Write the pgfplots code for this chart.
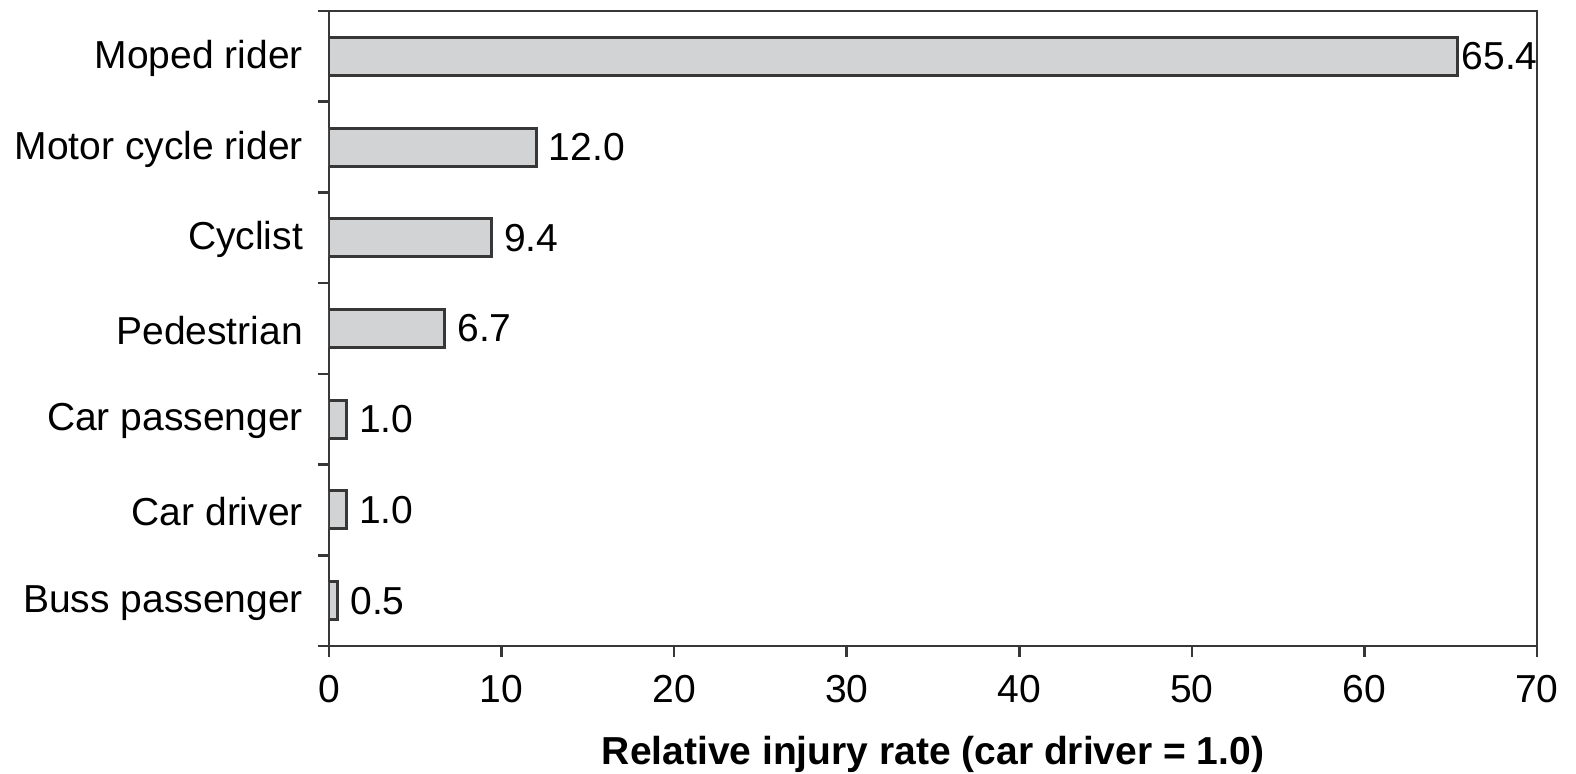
\documentclass[border=0pt]{standalone}
\usepackage{pgfplots}
\pgfplotsset{compat=1.18}
\usepackage{fontspec}
\setmainfont{Liberation Sans}
\definecolor{barfill}{RGB}{210,211,213}
\definecolor{edge}{RGB}{55,55,55}

\begin{document}
\begin{tikzpicture}[font=\fontsize{11.7}{14}\selectfont]
\begin{axis}[
  at={(0,0)}, anchor=south west,
  scale only axis,
  width=362.4pt, height=190.5pt,
  xbar, bar width=0.42,
  xmin=0, xmax=70,
  ymin=-0.5, ymax=6.5,
  xtick={0,10,...,70},
  ytick={-0.5,0.5,...,6.5},
  yticklabels={},
  extra y ticks={0,1,2,3,4,5,6},
  extra y tick labels={Buss passenger,Car driver,Car passenger,Pedestrian,Cyclist,Motor cycle rider,Moped rider},
  extra y tick style={tick style={draw=none}},
  tick align=outside,
  major tick length=3.3pt,
  tick style={edge, line width=0.8pt},
  axis line style={edge, line width=0.8pt},
  axis x line*=bottom,
  axis y line*=left,
  /pgf/number format/assume math mode=true,
  yticklabel style={xshift=-1pt, yshift=-0.6pt},
  xticklabel style={yshift=-2pt},
  xlabel={\textbf{Relative injury rate (car driver = 1.0)}},
  xlabel style={yshift=-3.2pt},
  nodes near coords,
  nodes near coords style={anchor=west, inner xsep=3.4pt, /pgf/number format/fixed, /pgf/number format/fixed zerofill, /pgf/number format/precision=1},
  point meta=explicit,
]
\addplot[bar shift=0pt, fill=barfill, draw=edge, line width=0.9pt]
  coordinates {(0.5,0) [0.5] (1.0,1) [1.0] (1.0,2) [1.0] (6.7,3) [6.7] (9.4,4) [9.4] (12.0,5) [12.0]};
\addplot[bar shift=0pt, fill=barfill, draw=edge, line width=0.9pt,
  every node near coord/.append style={inner xsep=0.8pt}]
  coordinates {(65.4,6) [65.4]};
\end{axis}
\draw[edge, line width=0.8pt] (0,190.5pt) -- (362.4pt,190.5pt) -- (362.4pt,0);
\pgfresetboundingbox
\path[use as bounding box] (-98.7pt,-38.4pt) rectangle (374.1pt,193.8pt);
\end{tikzpicture}
\end{document}
